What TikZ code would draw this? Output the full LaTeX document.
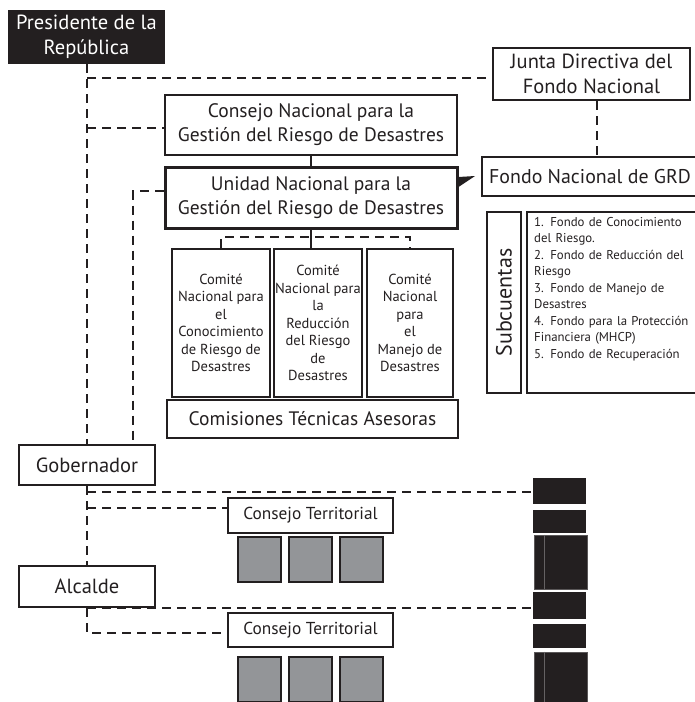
\documentclass[tikz,border=0pt]{standalone}
\usepackage{fontspec}
\setmainfont{PT Sans}
\definecolor{blk}{HTML}{231F20}
\definecolor{gry}{HTML}{939598}
\tikzset{
 box/.style={draw=blk, line width=2.2pt, inner sep=0pt, align=center, text=blk},
 dl/.style={draw=blk, line width=1.5pt, dash pattern=on 9pt off 6pt},
 sol/.style={draw=blk, line width=1.5pt},
 sq/.style={draw=blk, fill=gry, line width=2pt, inner sep=0pt, minimum width=43pt, minimum height=45pt},
 bk/.style={fill=blk, draw=none, inner sep=0pt, minimum width=53pt},
 big/.style={font=\fontsize{19.5}{24}\selectfont},
 bigger/.style={font=\fontsize{20.5}{25}\selectfont},
 cmtext/.style={font=\fontsize{14.5}{17.5}\selectfont},
 ctf/.style={font=\fontsize{17.3}{18}\selectfont},
}
\begin{document}
\begin{tikzpicture}[x=1pt,y=-1pt]
\useasboundingbox (0,0) rectangle (694,702);
% top level
\node[fill=blk, text=white, bigger, align=center, inner sep=0pt, minimum width=157pt, minimum height=54pt] (pres) at (86.5,37) {Presidente de la\\República};
\node[box, bigger, minimum width=197pt, minimum height=52pt] (junta) at (591.5,74) {Junta Directiva del\\Fondo Nacional};
\node[box, big, minimum width=292pt, minimum height=60pt] (cnac) at (311,125) {Consejo Nacional para la\\Gestión del Riesgo de Desastres};
\node[box, big, line width=3pt, minimum width=292pt, minimum height=61pt] (unidad) at (311,197.5) {Unidad Nacional para la\\Gestión del Riesgo de Desastres};
\node[box, minimum width=223pt, minimum height=39pt] (fondo) at (593.5,176.5) {};
\node[font=\fontsize{19.9}{24}\selectfont, anchor=west, inner sep=0pt, text=blk] (fondot) at (489,177) {Fondo Nacional de GRD};
% committees
\node[box, cmtext, line width=2pt, minimum width=98pt, minimum height=148pt] (c1) at (221,323) {Comité\\Nacional para\\el\\Conocimiento\\de Riesgo de\\Desastres};
\node[box, cmtext, line width=2pt, minimum width=88pt, minimum height=148pt] (c2) at (318,323) {Comité\\Nacional para\\la\\Reducción\\del Riesgo\\de\\Desastres};
\node[box, cmtext, line width=2pt, minimum width=86pt, minimum height=148pt] (c3) at (410,323) {Comité\\Nacional\\para\\el\\Manejo de\\Desastres};
\node[box, big, line width=2pt, minimum width=291pt, minimum height=38pt] (com) at (312.5,419) {Comisiones Técnicas Asesoras};
% subcuentas
\node[box, line width=2pt, minimum width=34pt, minimum height=181pt] (sub) at (504,302.5) {};
\node[rotate=90, font=\fontsize{22}{22}\selectfont, text=blk, inner sep=0pt] (subt) at (sub.center) {Subcuentas};
\node[box, line width=2pt, minimum width=180pt, minimum height=181pt] (list) at (617,302.5) {};
\node[anchor=north west, align=left, text width=165pt, inner sep=0pt, text=blk, font=\fontsize{12.8}{16.5}\selectfont] (listt) at (534,217) {1. Fondo de Conocimiento\\del Riesgo.\\2. Fondo de Reducción del\\Riesgo\\3. Fondo de Manejo de\\Desastres\\4. Fondo para la Protección\\Financiera (MHCP)\\5. Fondo de Recuperación};
% territorial
\node[box, bigger, minimum width=136pt, minimum height=40pt] (gob) at (87,465) {Gobernador};
\node[box, bigger, minimum width=136pt, minimum height=41pt] (alc) at (87,586.5) {Alcalde};
\node[box, ctf, line width=2pt, minimum width=165pt, minimum height=35pt] (ct1) at (310.5,515.5) {Consejo Territorial};
\node[box, ctf, line width=2pt, minimum width=165pt, minimum height=34pt] (ct2) at (310.5,630) {Consejo Territorial};
\node[sq] (s11) at (259.5,559.5) {};
\node[sq] (s12) at (310,559.5) {};
\node[sq] (s13) at (361.5,559.5) {};
\node[sq] (s21) at (259.5,679.5) {};
\node[sq] (s22) at (310,679.5) {};
\node[sq] (s23) at (361.5,679.5) {};
% black blocks
\node[bk, minimum height=26pt] (b1) at (559.5,491) {};
\node[bk, minimum height=23pt] (b2) at (559.5,521.5) {};
\node[bk, minimum height=54pt, draw=blk!75!white, line width=0.8pt] (b3) at (560.5,562) {};
\node[bk, minimum height=27pt] (b4) at (559.5,605.5) {};
\node[bk, minimum height=24pt] (b5) at (559.5,636) {};
\node[bk, minimum height=58pt, draw=blk!75!white, line width=0.8pt] (b6) at (560.5,681) {};
\draw[blk!70!white, line width=0.6pt] (b3.north -| 544,0) -- (b3.south -| 544,0);
\draw[blk!70!white, line width=0.6pt] (b6.north -| 544,0) -- (b6.south -| 544,0);
% connectors
\draw[dl] (pres.south -| gob.north) -- (gob.north);
\draw[dl] (gob.north |- 0,78) -- (junta.west |- 0,78);
\draw[dl] (gob.north |- 0,128) -- (cnac.west |- 0,128);
\draw[dl] (unidad.west |- 0,191) -- (133,191) -- (133,445);
\draw[dl] (junta.south -| 597,0) -- (fondo.north -| 597,0);
\draw[sol] (cnac.south) -- (unidad.north);
\draw[sol] (unidad.south) -- (unidad.south |- c2.north);
\draw[dl] (c1.north) -- (221,237) -- (410,237) -- (c3.north);
\fill[blk] (unidad.east |- 0,177) -- (475,176) -- (unidad.east |- 0,187) -- cycle;
\draw[dl] (gob.south) -- (alc.north);
\draw[dl] (gob.south |- 0,492) -- (b1.west |- 0,492);
\draw[dl] (gob.south |- 0,508) -- (ct1.west |- 0,508);
\draw[dl] (alc.south) -- (87,633) -- (ct2.west |- 0,633);
\draw[dl] (alc.south |- 0,608) -- (b4.west |- 0,608);
\end{tikzpicture}
\end{document}
